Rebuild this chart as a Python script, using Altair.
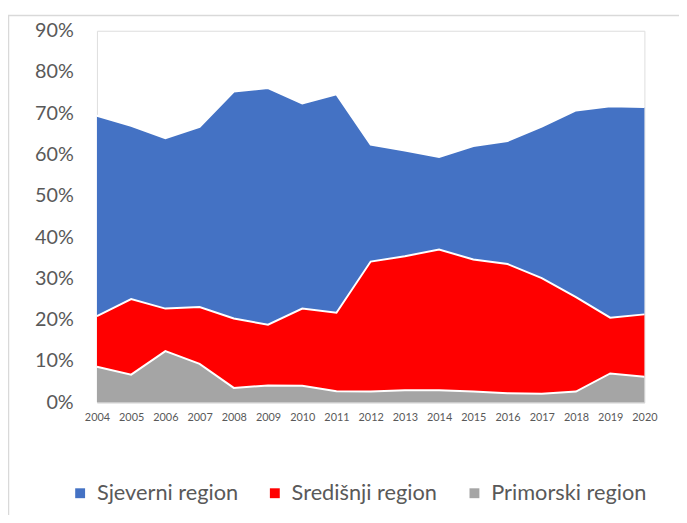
import altair as alt
import pandas as pd

years = list(range(2004, 2021))
series_names = ["Sjeverni region", "Središnji region", "Primorski region"]
sjeverni = [48.5, 42.0, 41.3, 43.6, 55.0, 57.3, 49.7, 52.9, 28.3, 25.6, 22.4, 27.5, 29.8, 36.7, 45.2, 51.2, 50.2]
sredisnji = [12.3, 18.3, 10.3, 13.8, 16.8, 14.7, 18.7, 19.0, 31.5, 32.5, 34.1, 32.0, 31.3, 28.0, 22.9, 13.5, 15.1]
primorski = [8.6, 6.7, 12.4, 9.3, 3.5, 4.1, 4.0, 2.7, 2.6, 2.9, 2.9, 2.6, 2.2, 2.1, 2.6, 7.0, 6.2]
colors = ["#4472C4", "#FF0000", "#A5A5A5"]
y_ticks = [0, 0.1, 0.2, 0.3, 0.4, 0.5, 0.6, 0.7, 0.8, 0.9]

rows = []
for name, vals, order in zip(series_names, [sjeverni, sredisnji, primorski], [2, 1, 0]):
    for y, v in zip(years, vals):
        rows.append({"year": str(y), "series": name, "value": v / 100.0, "ord": order})
df = pd.DataFrame(rows)

base = alt.Chart(df).transform_window(
    cum="sum(value)", groupby=["year"], sort=[alt.SortField("ord")], frame=[None, 0]
).transform_calculate(low="datum.cum - datum.value")

x_enc = alt.X(
    "year:O",
    scale=alt.Scale(type="point", padding=0),
    axis=alt.Axis(
        title=None, labelAngle=0, labelFontSize=11, labelColor="#595959",
        labelFont="Lato", ticks=False, domainColor="#D9D9D9", domainWidth=1.5,
        labelPadding=9,
    ),
)

area = base.mark_area(opacity=1).encode(
    x=x_enc,
    y=alt.Y(
        "cum:Q",
        scale=alt.Scale(domain=[0, 0.9], nice=False),
        axis=alt.Axis(
            title=None, values=y_ticks, format=".0%", grid=False, domain=False,
            ticks=False, labelFontSize=20, labelColor="#595959", labelFont="Lato",
            labelPadding=24,
        ),
    ),
    y2="low:Q",
    color=alt.Color(
        "series:N",
        scale=alt.Scale(domain=series_names, range=colors),
        legend=alt.Legend(
            title=None, orient="none", direction="horizontal", legendX=-28, legendY=457,
            symbolType="square", symbolSize=100, symbolStrokeWidth=0,
            labelFontSize=22, labelFont="Lato", labelColor="#595959",
            labelOffset=6, columnPadding=26,
        ),
    ),
    order=alt.Order("ord:Q"),
)

line = base.mark_line(color="white", strokeWidth=2).encode(
    x=alt.X("year:O", scale=alt.Scale(type="point", padding=0)),
    y=alt.Y("cum:Q"),
    detail="series:N",
)

border = alt.Chart(pd.DataFrame({"a": [0]})).mark_rect(
    fill=None, stroke="#D9D9D9", strokeWidth=1.5
).encode(
    x=alt.value(-89.5), y=alt.value(-15.5), x2=alt.value(700), y2=alt.value(600)
)

chart = alt.layer(area, line, border).properties(
    width=554, height=376,
    autosize=alt.AutoSizeParams(type="none"),
    padding={"left": 90, "top": 20, "right": 35, "bottom": 111},
).configure_view(stroke=None).configure(background="white")

chart.save("out.html", embed_options={"renderer": "svg", "actions": False})
